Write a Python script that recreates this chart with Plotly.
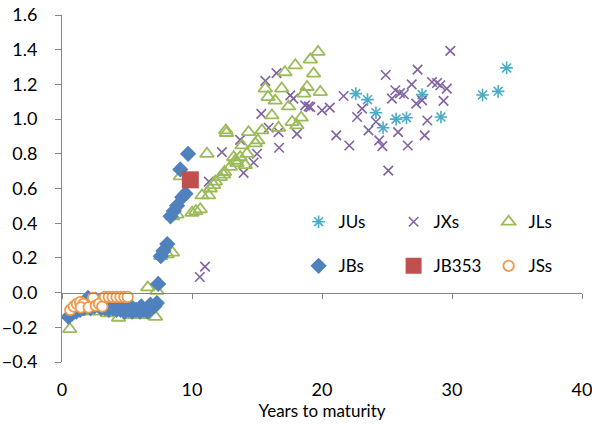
import plotly.graph_objects as go

# ---- data ----
ju_x = [22.6, 23.5, 24.15, 24.7, 25.7, 26.5, 27.7, 29.15, 32.35, 33.55, 34.2]
ju_y = [1.147, 1.112, 1.037, 0.950, 1.000, 1.008, 1.141, 1.012, 1.139, 1.160, 1.295]

jx_x = [10.6, 11.0, 11.3, 12.3, 13.7, 13.97, 14.74, 15.0, 15.33, 15.64, 15.9, 16.5,
        16.66, 16.7, 17.56, 17.8, 18.07, 18.7, 18.97, 19.1, 20.0, 20.6, 21.1, 21.66,
        22.1, 22.7, 23.08, 23.58, 24.15, 24.4, 24.64, 24.9, 25.1, 25.38, 25.64, 25.85,
        26.0, 26.3, 26.6, 26.9, 27.25, 27.35, 27.7, 27.9, 28.1, 28.46, 28.85, 29.1,
        29.35, 29.6, 29.87]
jx_y = [0.09, 0.15, 0.64, 0.81, 0.88, 0.69, 0.75, 0.80, 1.03, 1.22, 0.95, 1.265,
        0.925, 0.835, 1.137, 1.118, 0.915, 1.079, 1.073, 1.069, 1.05, 1.066, 0.906, 1.133,
        0.848, 1.012, 1.06, 0.935, 0.985, 0.877, 0.844, 1.254, 0.703, 1.118, 1.166, 0.925,
        1.15, 1.143, 0.848, 1.2, 1.089, 1.285, 1.108, 0.906, 0.992, 1.214, 1.208, 1.195,
        1.105, 1.176, 1.393]

jl_x = [0.6, 1.5, 2.6, 3.5, 4.35, 5.2, 6.0, 6.6, 7.2, 7.3, 7.6, 8.1, 8.5, 8.5, 8.85,
        9.1, 10.0, 10.3, 10.64, 10.77, 11.28, 11.4, 11.67, 11.8, 11.15, 12.18, 12.43,
        12.5, 12.95, 13.2, 13.33, 13.46, 13.7, 14.1, 14.23, 12.6, 12.65, 13.85, 14.35,
        14.87, 15.07, 15.38, 15.64, 15.85, 16.15, 16.4, 16.66, 16.9, 17.15, 17.43, 17.7,
        17.95, 18.07, 18.4, 18.6, 18.85, 19.1, 19.35, 19.7, 19.87]
jl_y = [-0.21, -0.11, -0.11, -0.12, -0.145, -0.13, -0.13, 0.03, -0.14, 0.01, 0.21, 0.22,
        0.23, 0.44, 0.45, 0.67, 0.46, 0.47, 0.48, 0.56, 0.56, 0.60, 0.62, 0.64, 0.80,
        0.665, 0.68, 0.695, 0.725, 0.78, 0.76, 0.746, 0.78, 0.735, 0.80, 0.935, 0.92,
        0.848, 0.925, 0.86, 0.877, 0.935, 1.176, 1.127, 1.021, 1.106, 0.95, 1.176, 1.27,
        1.073, 0.983, 1.31, 0.964, 1.008, 1.147, 1.185, 1.343, 1.262, 1.387, 1.156]

jb_x = [0.5, 0.8, 1.1, 1.4, 1.7, 1.9, 2.2, 2.5, 2.8, 3.0, 3.3, 3.6, 3.9, 4.2, 4.5, 4.8,
        5.1, 5.4, 5.7, 6.0, 6.3, 6.6, 6.9, 7.1, 7.3, 7.4, 7.6, 7.8, 8.1, 8.35, 8.6, 8.85,
        9.1, 9.25, 9.5, 9.7, 2.0, 2.6, 3.2, 4.0, 4.6, 5.3, 6.1, 6.8]
jb_y = [-0.14, -0.12, -0.11, -0.10, -0.09, -0.05, -0.09, -0.08, -0.05, -0.09, -0.09,
        -0.10, -0.09, -0.10, -0.10, -0.11, -0.10, -0.11, -0.10, -0.11, -0.10, -0.11,
        -0.09, -0.08, -0.06, 0.05, 0.21, 0.24, 0.28, 0.44, 0.47, 0.50, 0.71, 0.55, 0.57,
        0.80, -0.03, -0.04, -0.06, -0.07, -0.08, -0.08, -0.08, -0.07]

jb353_x = [9.87]
jb353_y = [0.65]

js_x = [0.64, 0.9, 1.15, 1.4, 1.65, 1.45, 2.05, 2.4, 2.6, 2.85, 3.1, 3.3, 3.6, 3.9,
        4.2, 4.5, 4.8, 5.05]
js_y = [-0.10, -0.08, -0.065, -0.055, -0.065, -0.085, -0.085, -0.03, -0.075, -0.065,
        -0.08, -0.025, -0.025, -0.025, -0.025, -0.025, -0.025, -0.025]

x_ticks = [0, 10, 20, 30, 40]
y_ticks = [-0.4, -0.2, 0.0, 0.2, 0.4, 0.6, 0.8, 1.0, 1.2, 1.4, 1.6]

FONT = "Lato"
GRAY = "#868686"
C_JU, C_JX, C_JL = "#4BACC6", "#8064A2", "#9BBB59"
C_JB, C_353, C_JS = "#4F81BD", "#C0504D", "#F79646"

fig = go.Figure()
fig.add_trace(go.Scatter(x=ju_x, y=ju_y, mode="markers", name="JUs", legend="legend",
                         marker=dict(symbol="asterisk-open", size=10.5, color=C_JU,
                                     line=dict(color=C_JU, width=1.6))))
fig.add_trace(go.Scatter(x=jx_x, y=jx_y, mode="markers", name="JXs", legend="legend",
                         marker=dict(symbol="x-thin-open", size=9.5, color=C_JX,
                                     line=dict(color=C_JX, width=1.6))))
fig.add_trace(go.Scatter(x=jl_x, y=jl_y, mode="markers", name="JLs", legend="legend",
                         marker=dict(symbol="triangle-up-open", size=12, color=C_JL,
                                     line=dict(color=C_JL, width=1.8))))
fig.add_trace(go.Scatter(x=jb_x, y=jb_y, mode="markers", name="JBs", legend="legend2",
                         marker=dict(symbol="diamond", size=12.5, color=C_JB)))
fig.add_trace(go.Scatter(x=jb353_x, y=jb353_y, mode="markers", name="JB353",
                         legend="legend2",
                         marker=dict(symbol="square", size=17, color=C_353)))
fig.add_trace(go.Scatter(x=js_x, y=js_y, mode="markers", name="JSs", legend="legend2",
                         marker=dict(symbol="circle", size=10.5, color="white",
                                     line=dict(color=C_JS, width=1.8))))
# axis crossing line at y = 0 (empty helper trace so the overlay axis exists)
fig.add_trace(go.Scatter(x=[], y=[], xaxis="x2", showlegend=False, hoverinfo="skip"))

legend_common = dict(orientation="h", entrywidth=50, itemwidth=30,
                     font=dict(family=FONT, size=17, color="black"),
                     bgcolor="rgba(0,0,0,0)", xanchor="left", yanchor="middle",
                     itemsizing="trace", traceorder="normal")

fig.update_layout(
    width=592, height=425,
    margin=dict(l=62, r=10, t=15, b=63, autoexpand=False),
    paper_bgcolor="white", plot_bgcolor="white",
    font=dict(family=FONT, size=18, color="black"),
    showlegend=True,
    legend=dict(x=0.455, y=0.403, **legend_common),
    legend2=dict(x=0.455, y=0.276, **legend_common),
    xaxis=dict(range=[0, 40], tickvals=x_ticks, showline=False, showgrid=False,
               zeroline=False, ticks="outside", ticklen=11, tickcolor="rgba(0,0,0,0)",
               automargin=False, ticklabeloverflow="allow",
               tickfont=dict(family=FONT, size=18),
               title=dict(text="Years to maturity", font=dict(family=FONT, size=17),
                          standoff=4)),
    xaxis2=dict(range=[0, 40], tickvals=x_ticks, overlaying="x", anchor="free",
                position=0.2, side="bottom", showline=True, linecolor=GRAY,
                linewidth=1, ticks="outside", ticklen=5, tickcolor=GRAY,
                automargin=False,
                showticklabels=False, showgrid=False, zeroline=False),
    yaxis=dict(range=[-0.4, 1.6], tickvals=y_ticks, tickformat=".1f",
               showline=True, linecolor=GRAY, linewidth=1, ticks="outside",
               ticklen=6, tickcolor=GRAY, showgrid=False, zeroline=False,
               automargin=False, ticklabeloverflow="allow",
               ticklabelstandoff=14, tickfont=dict(family=FONT, size=18)),
)

# remove the browser's default 8 px page margin so the figure fills the window
fig.write_html("out.html", config={"displayModeBar": False},
               post_script="document.body.style.margin='0px';")
